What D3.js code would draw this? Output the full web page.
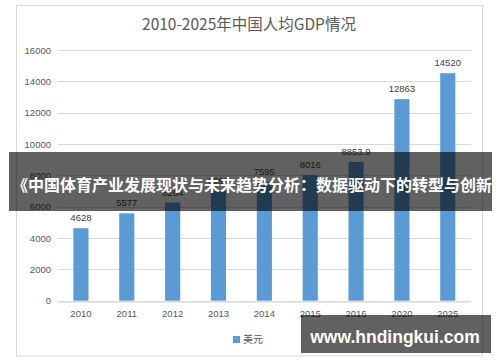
<!DOCTYPE html>
<html>
<head>
<meta charset="utf-8">
<script src="https://cdn.jsdelivr.net/npm/d3@7"></script>
<style>
  body { margin: 0; background: #fff; }
  svg { display: block; }
</style>
</head>
<body>
<div id="chart"></div>
<script>
// chart data
const years = ["2010", "2011", "2012", "2013", "2014", "2015", "2016", "2020", "2025"];
const gdpUsd = [4628, 5577, 6264, 6995, 7595, 8016, 8853.9, 12863, 14520];
const yTicks = [0, 2000, 4000, 6000, 8000, 10000, 12000, 14000, 16000];
const seriesName = "美元";
const chartTitle = "2010-2025年中国人均GDP情况";
const bannerText = "《中国体育产业发展现状与未来趋势分析：数据驱动下的转型与创新》";
const watermark = "www.hndingkui.com";

const width = 500, height = 362;
const numFont = "'Liberation Sans', Arial, sans-serif";
const cjkFont = "'Noto Sans CJK SC', sans-serif";

const svg = d3.select("#chart").append("svg")
  .attr("width", width)
  .attr("height", height);

// chart frame
svg.append("rect")
  .attr("x", 16.5).attr("y", 5.5)
  .attr("width", 466).attr("height", 350.5)
  .attr("fill", "#fff")
  .attr("stroke", "#d9d9d9");

// title
svg.append("text")
  .attr("x", 249).attr("y", 30)
  .attr("text-anchor", "middle")
  .attr("font-family", cjkFont)
  .attr("font-size", "15.5px")
  .attr("fill", "#595959")
  .text(chartTitle);

// scales
const x = d3.scaleBand()
  .domain(years)
  .range([58, 470.7])
  .paddingInner(0.67)
  .paddingOuter(0.335);

const y = d3.scaleLinear()
  .domain([0, 16000])
  .range([300.7, 50]);

// gridlines
svg.append("g")
  .selectAll("line")
  .data(yTicks)
  .join("line")
  .attr("x1", 58).attr("x2", 470.7)
  .attr("y1", d => Math.round(y(d)) + 0.5)
  .attr("y2", d => Math.round(y(d)) + 0.5)
  .attr("stroke", "#d9d9d9");

// y axis labels
const yAxis = svg.append("g")
  .attr("transform", "translate(58,0)")
  .call(d3.axisLeft(y).tickValues(yTicks).tickSize(0).tickPadding(7).tickFormat(d3.format("d")));
yAxis.select(".domain").remove();
yAxis.selectAll("text")
  .attr("font-family", numFont)
  .attr("font-size", "9.5px")
  .attr("fill", "#595959");

// bars
svg.append("g")
  .selectAll("rect")
  .data(gdpUsd)
  .join("rect")
  .attr("x", (d, i) => x(years[i]))
  .attr("y", d => y(d))
  .attr("width", x.bandwidth())
  .attr("height", d => y(0) - y(d))
  .attr("fill", "#5b9bd5");

// value labels
svg.append("g")
  .selectAll("text")
  .data(gdpUsd)
  .join("text")
  .attr("x", (d, i) => x(years[i]) + x.bandwidth() / 2)
  .attr("y", d => y(d) - 7)
  .attr("text-anchor", "middle")
  .attr("font-family", numFont)
  .attr("font-size", "9.5px")
  .attr("fill", "#404040")
  .text(d => String(d));

// x axis
const xAxis = svg.append("g")
  .attr("transform", `translate(0,${Math.round(y(0)) + 0.5})`)
  .call(d3.axisBottom(x).tickSize(0).tickPadding(9));
xAxis.select(".domain").attr("stroke", "#d9d9d9");
xAxis.selectAll("text")
  .attr("font-family", numFont)
  .attr("font-size", "9.5px")
  .attr("fill", "#595959");

// legend
svg.append("rect")
  .attr("x", 233).attr("y", 336)
  .attr("width", 7).attr("height", 7)
  .attr("fill", "#5b9bd5");
svg.append("text")
  .attr("x", 243).attr("y", 343)
  .attr("font-family", cjkFont)
  .attr("font-size", "10px")
  .attr("fill", "#595959")
  .text(seriesName);

// overlay banner
svg.append("clipPath").attr("id", "bannerClip")
  .append("rect")
  .attr("x", 9).attr("y", 152)
  .attr("width", 483).attr("height", 59);
svg.append("rect")
  .attr("x", 9).attr("y", 152)
  .attr("width", 483).attr("height", 59)
  .attr("fill", "#000")
  .attr("opacity", 0.62);
svg.append("text")
  .attr("clip-path", "url(#bannerClip)")
  .attr("x", 12).attr("y", 191)
  .attr("font-family", cjkFont)
  .attr("font-weight", "bold")
  .attr("font-size", "16px")
  .attr("fill", "#fff")
  .text(bannerText);

// watermark box
svg.append("rect")
  .attr("x", 301).attr("y", 315)
  .attr("width", 190).attr("height", 38)
  .attr("fill", "#000")
  .attr("opacity", 0.62);
svg.append("text")
  .attr("x", 395).attr("y", 343)
  .attr("text-anchor", "middle")
  .attr("font-family", numFont)
  .attr("font-weight", "bold")
  .attr("font-size", "17.5px")
  .attr("fill", "#fff")
  .text(watermark);
</script>
</body>
</html>
